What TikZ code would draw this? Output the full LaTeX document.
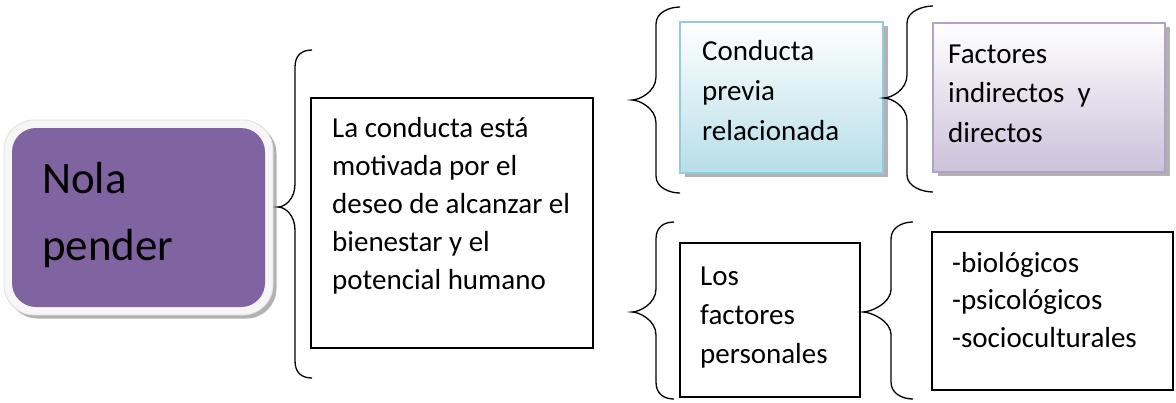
\documentclass[tikz,border=0pt]{standalone}
\usepackage{fontspec}
\setmainfont{Carlito}
\definecolor{nolapurple}{HTML}{8064A2}
\definecolor{blueedge}{HTML}{93CDDD}
\definecolor{bluefill}{HTML}{B7DEE8}
\definecolor{lavedge}{HTML}{B3A2C7}
\definecolor{lavfill}{HTML}{CCC1DA}
\newcommand\mybrace[6]{%
  \draw[bracestyle] (#4,#5) .. controls ({#4-10},#5) and (#3,{#5+5}) .. (#3,{#5+17})
  -- (#3,{#2-23}) .. controls (#3,{#2-8}) and ({#1+7},#2) .. (#1,#2)
  .. controls ({#1+7},#2) and (#3,{#2+8}) .. (#3,{#2+23})
  -- (#3,{#6-17}) .. controls (#3,{#6-5}) and ({#4-10},#6) .. (#4,#6);}
\begin{document}
\begin{tikzpicture}[x=1pt,y=-1pt,
  bracestyle/.style={draw=black,line width=1.3pt},
  plainbox/.style={draw=black,line width=1.4pt,fill=white,inner sep=0pt},
  shadowbox/.style={fill=gray!60,draw=none,inner sep=0pt},
  txt/.style={anchor=north west,inner sep=0pt,align=left,text=black}]
\useasboundingbox (0,0) rectangle (1176,402);

% Nola pender
\node[shadowbox,rounded corners=30pt,minimum width=269pt,minimum height=195pt] (nolashadow) at (142,221) {};
\node[fill=gray!7,draw=gray!25,line width=0.8pt,rounded corners=30pt,minimum width=269pt,minimum height=195pt,inner sep=0pt] (nolaframe) at (138.5,217.5) {};
\node[fill=nolapurple,draw=none,rounded corners=24pt,minimum width=253pt,minimum height=179pt,inner sep=0pt] (nola) at (138.5,217.5) {};
\node[txt,font={\fontsize{45}{67}\selectfont}] (nolatext) at (42,{193-0.7*67}) {\strut Nola\\pender};

% main box
\node[plainbox,minimum width=282pt,minimum height=250pt] (main) at (452,223) {};
\node[txt,font={\fontsize{29}{38}\selectfont}] (maintext) at (332,{137-0.7*38}) {\strut La conducta está\\motivada por el\\deseo de alcanzar el\\bienestar y el\\potencial humano};

% Conducta previa
\node[shadowbox,minimum width=203pt,minimum height=151pt] (condshadow) at (786,101.5) {};
\node[draw=blueedge,line width=1.2pt,top color=white,bottom color=bluefill,minimum width=203pt,minimum height=151pt,inner sep=0pt] (cond) at (781.5,97.5) {};
\node[txt,font={\fontsize{29}{40}\selectfont}] (condtext) at (702,{60-0.7*40}) {\strut Conducta\\previa\\relacionada};

% Factores
\node[shadowbox,minimum width=232pt,minimum height=149pt] (factshadow) at (1053.5,101.5) {};
\node[draw=lavedge,line width=1.2pt,top color=white,bottom color=lavfill,minimum width=232pt,minimum height=149pt,inner sep=0pt] (fact) at (1049,97.5) {};
\node[txt,font={\fontsize{29}{39.5}\selectfont}] (facttext) at (948,{63-0.7*39.5}) {\strut Factores\\indirectos\ \ y\\directos};

% Los factores personales
\node[plainbox,minimum width=180pt,minimum height=154pt] (pers) at (770,320) {};
\node[txt,font={\fontsize{29}{39}\selectfont}] (perstext) at (700,{285-0.7*39}) {\strut Los\\factores\\personales};

% biologicos
\node[plainbox,minimum width=241pt,minimum height=158pt] (bio) at (1052.5,311) {};
\node[txt,font={\fontsize{29}{37.5}\selectfont}] (biotext) at (952,{272-0.7*37.5}) {\strut -biológicos\\-psicológicos\\-socioculturales};

% braces
\mybrace{278}{207}{295}{312}{50}{378}
\mybrace{632}{100}{656}{680}{7}{193}
\mybrace{884}{98}{907}{933}{6}{192}
\mybrace{632}{312}{656}{674}{222}{399}
\mybrace{863}{312}{891}{913}{222}{399}
\end{tikzpicture}
\end{document}
